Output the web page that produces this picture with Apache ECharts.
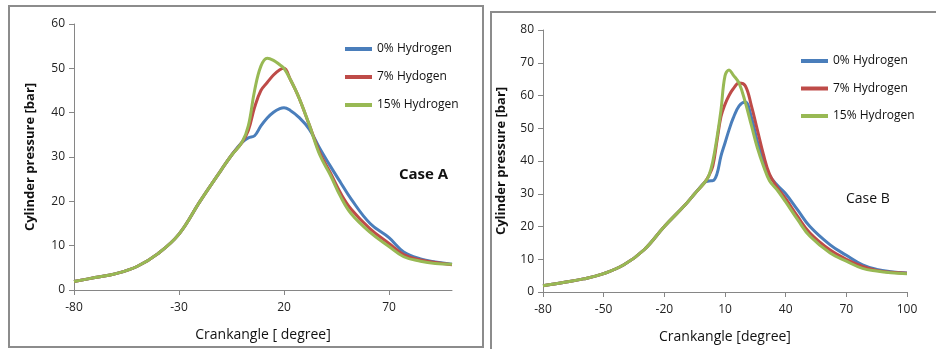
<!DOCTYPE html>
<html><head><meta charset="utf-8">
<script src="https://cdn.jsdelivr.net/npm/echarts@6/dist/echarts.min.js"></script>
<style>html,body{margin:0;padding:0;background:#fff}#c{width:936px;height:349px}</style>
</head><body><div id="c"></div>
<script>
// ---- Case A data ----
const anglesA = [-80,-70,-60,-50,-40,-30,-20,-10,-5,0,3,6,9,12,15,18,20,23,27,32,37,42,47,52,61,70,77,85,92,100];
const p0A  = [1.9,2.8,3.7,5.3,8.2,12.6,20,27,30.4,33.3,34.3,34.8,37,38.8,40.1,40.9,41.1,40.5,39,36.3,32,28,24.2,20.5,15,11.8,8.6,7,6.3,5.8];
const p7A  = [1.9,2.8,3.7,5.3,8.2,12.6,20,27,30.4,33.3,36,41.2,45,46.8,48.5,49.7,50,47.5,43.5,37.3,31,26.5,21.8,18.2,13.8,10.5,8,6.8,6.2,5.7];
const p15A = [1.9,2.8,3.7,5.3,8.2,12.6,20,27,30.4,33.3,37,45,50.5,52.3,51.8,50.8,50,47.5,43.5,37.3,30.5,26,21,17.2,13,9.8,7.5,6.5,6,5.8];
const namesA = ['0% Hydrogen','7% Hydogen','15% Hydrogen'];
const xTicksA = [-80,-30,20,70];

// ---- Case B data ----
const anglesB = [-80,-70,-60,-50,-40,-30,-20,-10,-5,0,2,4,6,8,10,12,14,17,20,23,26,29,32,36,40,46,52,62,70,78,85,92,100];
const p0B  = [1.9,2.9,4,5.6,8.3,12.9,20,26.4,30,33.5,33.9,34,36,41.5,45.5,49.5,53,56.8,58,53.5,46,40,35.6,32.5,30,25,20,14.4,11.2,8.3,6.9,6.2,5.8];
const p7B  = [1.9,2.9,4,5.6,8.3,12.9,20,26.4,30,33.5,35.5,38.5,46,53.5,57.3,60,62,63.8,63,57,49.5,42,36,31.8,28.5,23,18,12.8,10,7.8,6.6,6,5.7];
const p15B = [1.9,2.9,4,5.6,8.3,12.9,20,26.4,30,33.5,35.5,40,47,55.5,66,67.8,66.3,63.7,58,51,44,38.5,34,31,27.5,22,17,11.9,9.4,7.2,6.4,5.9,5.6];
const namesB = ['0% Hydrogen','7% Hydrogen','15% Hydrogen'];
const xTicksB = [-80,-50,-20,10,40,70,100];

const colors = ['#4A7EBB','#BE4B48','#98B954'];
const FONT = '"Open Sans", "Noto Sans", sans-serif';

function pairs(xs, ys){ return xs.map((x,i)=>[x, ys[i]]); }

function xAxisCfg(gi, ticks, name){
  return {
    type:'value', gridIndex:gi, min:-80, max:100,
    axisLine:{show:true, onZero:false, lineStyle:{color:'#868686'}},
    axisTick:{show:true, length:5, customValues:ticks, lineStyle:{color:'#868686'}},
    axisLabel:{customValues:ticks, margin:12, color:'#222', fontSize:12, fontFamily:FONT},
    splitLine:{show:false},
    name:name, nameLocation:'middle', nameGap:38,
    nameTextStyle:{color:'#111', fontSize:14, fontFamily:FONT}
  };
}
function yAxisCfg(gi, max, gap){
  return {
    type:'value', gridIndex:gi, min:0, max:max, interval:10,
    axisLine:{show:true, onZero:false, lineStyle:{color:'#868686'}},
    axisTick:{show:true, length:5, lineStyle:{color:'#868686'}},
    axisLabel:{margin:9, color:'#222', fontSize:12, fontFamily:FONT},
    splitLine:{show:false},
    name:'Cylinder pressure [bar]', nameLocation:'middle', nameGap:gap,
    nameTextStyle:{color:'#111', fontSize:13, fontWeight:'bold', fontFamily:FONT}
  };
}
function mkSeries(names, xs, arrs, gi){
  return arrs.map((ys,i)=>({
    type:'line', name:names[i], xAxisIndex:gi, yAxisIndex:gi,
    data:pairs(xs, ys), smooth:0.4, showSymbol:false,
    lineStyle:{width:3, color:colors[i]}, itemStyle:{color:colors[i]},
    z: i===0?3:(i===1?4:5)
  }));
}

const chart = echarts.init(document.getElementById('c'), null, {renderer:'canvas'});
chart.setOption({
  animation:false,
  backgroundColor:'#fff',
  grid:[
    {left:74, top:24, width:378, height:266},
    {left:543, top:30, width:364, height:262}
  ],
  xAxis:[xAxisCfg(0, xTicksA, 'Crankangle [ degree]'), xAxisCfg(1, xTicksB, 'Crankangle [degree]')],
  yAxis:[yAxisCfg(0, 60, 37), yAxisCfg(1, 80, 35)],
  legend:[
    {data:namesA, orient:'vertical', left:340, top:38, itemWidth:27, itemHeight:4, icon:'rect', itemGap:16,
     textStyle:{color:'#111', fontSize:12, fontFamily:FONT}},
    {data:namesB, orient:'vertical', left:796, top:50, itemWidth:27, itemHeight:4, icon:'rect', itemGap:15.5,
     textStyle:{color:'#111', fontSize:12, fontFamily:FONT}}
  ],
  graphic:[
    {type:'rect', shape:{x:9, y:6, width:474, height:341}, style:{fill:null, stroke:'#8c8c8c', lineWidth:2}, silent:true},
    {type:'rect', shape:{x:491, y:12, width:460, height:350}, style:{fill:null, stroke:'#8c8c8c', lineWidth:2}, silent:true},
    {type:'text', left:399, top:167, style:{text:'Case A', fill:'#111', font:'bold 15px '+FONT}},
    {type:'text', left:846, top:192, style:{text:'Case B', fill:'#111', font:'14px '+FONT}}
  ],
  series:[].concat(mkSeries(namesA, anglesA, [p0A,p7A,p15A], 0), mkSeries(namesB, anglesB, [p0B,p7B,p15B], 1))
});
</script></body></html>
